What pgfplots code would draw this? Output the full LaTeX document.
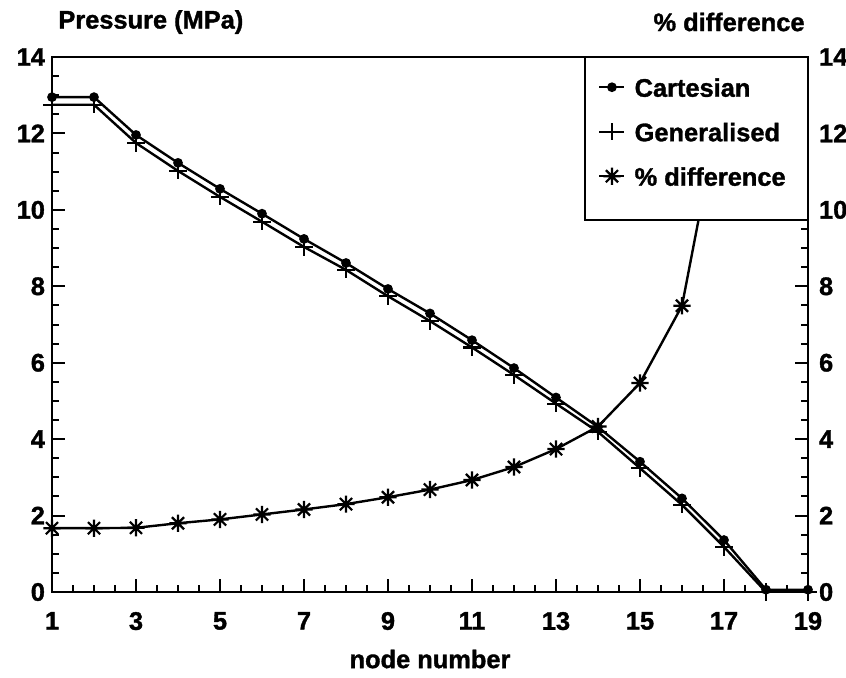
\documentclass[border=0pt]{standalone}
\usepackage{fontspec}
\setmainfont{Liberation Sans}[BoldFeatures={FakeBold=1.3}]
\usepackage{pgfplots}
\pgfplotsset{compat=1.18}

\pgfdeclareplotmark{ast8}{%
  \pgfpathmoveto{\pgfqpoint{0pt}{\pgfplotmarksize}}\pgfpathlineto{\pgfqpoint{0pt}{-\pgfplotmarksize}}%
  \pgfpathmoveto{\pgfqpoint{\pgfplotmarksize}{0pt}}\pgfpathlineto{\pgfqpoint{-\pgfplotmarksize}{0pt}}%
  \pgfpathmoveto{\pgfqpoint{0.707\pgfplotmarksize}{0.707\pgfplotmarksize}}\pgfpathlineto{\pgfqpoint{-0.707\pgfplotmarksize}{-0.707\pgfplotmarksize}}%
  \pgfpathmoveto{\pgfqpoint{-0.707\pgfplotmarksize}{0.707\pgfplotmarksize}}\pgfpathlineto{\pgfqpoint{0.707\pgfplotmarksize}{-0.707\pgfplotmarksize}}%
  \pgfusepathqstroke}

\newcommand{\lbl}{\fontsize{12.7}{14}\selectfont\bfseries}

\pgfplotsset{
  base/.style={
    at={(0pt,0pt)}, anchor=south west, scale only axis,
    width=378pt, height=267.5pt,
    xmin=1, xmax=19, ymin=0, ymax=14,
    xtick={1,3,...,19}, ytick={0,2,...,14},
    minor x tick num=3, minor y tick num=3,
    tick align=inside,
    major tick length=6.5pt, minor tick length=3.5pt,
    every tick/.style={black, line width=1pt},
    axis line style={line width=1pt},
    tick label style={font=\lbl},
    /pgf/number format/assume math mode=true,
  },
  cart/.style={black, line width=1.2pt, mark=*, mark size=1.8pt},
  gen/.style={black, line width=1.2pt, mark=+, mark size=4.3pt, mark options={line width=1.1pt}},
  pdiff/.style={black, line width=1.2pt, mark=ast8, mark size=4.3pt, mark options={line width=1.1pt}},
}

\begin{document}
\begin{tikzpicture}
\useasboundingbox (-26pt,-42.5pt) rectangle (397pt,296pt);
\begin{axis}[base,
  xtick pos=left, ytick pos=both, yticklabel pos=left,
  xticklabel style={yshift=-6.5pt},
]
\addplot[cart] coordinates {
(1,12.95) (2,12.95) (3,11.96) (4,11.23) (5,10.55) (6,9.90) (7,9.24) (8,8.61) (9,7.93) (10,7.29)
(11,6.59) (12,5.86) (13,5.09) (14,4.32) (15,3.41) (16,2.45) (17,1.36) (18,0.06) (19,0.06)};
\addplot[gen] coordinates {
(1,12.75) (2,12.75) (3,11.75) (4,11.02) (5,10.34) (6,9.69) (7,9.03) (8,8.43) (9,7.74) (10,7.09)
(11,6.40) (12,5.68) (13,4.93) (14,4.19) (15,3.24) (16,2.28) (17,1.18) (18,0.0) (19,0.0)};
\addplot[pdiff] coordinates {
(1,1.67) (2,1.67) (3,1.68) (4,1.80) (5,1.90) (6,2.03) (7,2.16) (8,2.30) (9,2.48) (10,2.68)
(11,2.93) (12,3.27) (13,3.74) (14,4.33) (15,5.47) (16,7.49) (17,13.2)};
\end{axis}
\begin{axis}[base,
  hide x axis, axis y line*=right, y axis line style={-},
  ytick pos=right, yticklabel pos=right,
  yticklabel style={xshift=2pt},
  legend style={at={(0.722,0.962)}, anchor=north west, draw=none, fill=none,
    inner sep=0pt, row sep=12.75pt, /tikz/column sep=4.5pt,
    nodes={inner sep=0pt, text height=9.5pt, text depth=0pt, font=\lbl}},
  legend cell align=left,
  legend image code/.code={\draw[mark repeat=2,mark phase=2] plot coordinates {(0pt,0pt) (6.25pt,0pt) (12.5pt,0pt)};},
]
\draw[fill=white, line width=1pt] (rel axis cs:0.705,0.695) rectangle (rel axis cs:1,1);
\addlegendimage{cart}
\addlegendentry{Cartesian}
\addlegendimage{gen}
\addlegendentry{Generalised}
\addlegendimage{pdiff}
\addlegendentry{\% difference}
\end{axis}
\node[anchor=west, font=\lbl, inner sep=0pt] at (3pt,285pt) {Pressure (MPa)};
\node[anchor=east, font=\lbl, inner sep=0pt] at (376.5pt,285pt) {\% difference};
\node[font=\lbl, inner sep=0pt] at (189pt,-33.5pt) {node number};
\end{tikzpicture}
\end{document}
